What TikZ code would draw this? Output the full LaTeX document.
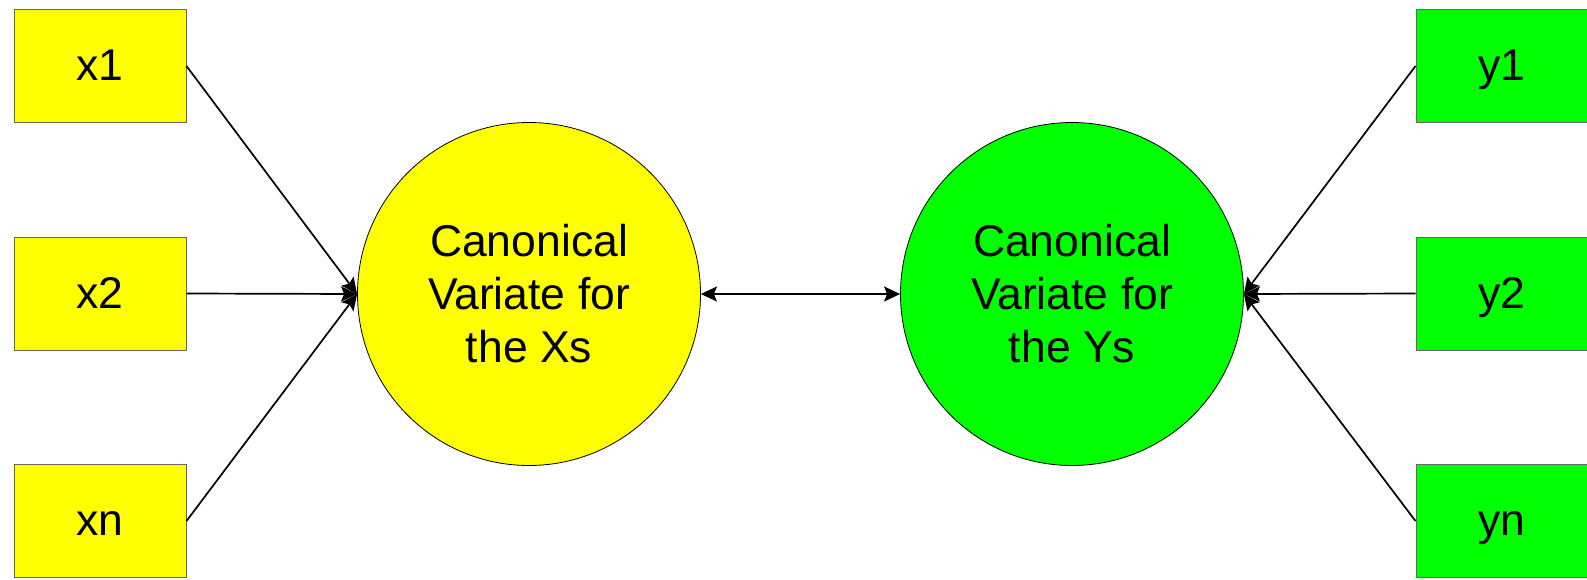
\documentclass[tikz,border=0pt]{standalone}
\usepackage{fontspec}
\setmainfont{Liberation Sans}
\usetikzlibrary{arrows.meta}
\definecolor{yel}{RGB}{255,255,0}
\definecolor{grn}{RGB}{0,255,0}
\tikzset{
  var/.style={draw=black!60, line width=1pt, minimum width=172pt, minimum height=113pt, inner sep=0pt, text height=29pt, text depth=0pt, font=\fontsize{44.5}{50}\selectfont},
  cv/.style={circle, draw=black, line width=0.8pt, minimum size=343pt, inner sep=0pt, align=center, font=\fontsize{44.5}{53}\selectfont},
  conn/.style={line width=1.7pt, -{Stealth[length=16pt,width=15pt,inset=3pt]}},
  biconn/.style={line width=1.7pt, {Stealth[length=16pt,width=15pt,inset=3pt]}-{Stealth[length=16pt,width=15pt,inset=3pt]}}
}
\begin{document}
\begin{tikzpicture}[x=1pt,y=1pt]
\useasboundingbox (0,0) rectangle (1587,-579);
\begin{scope}
\clip (0,0) rectangle (1587,-579);
\node[var, fill=yel] (x1) at (100,-66) {x1};
\node[var, fill=yel] (x2) at (100,-293.5) {x2};
\node[var, fill=yel] (xn) at (100,-521) {xn};
\node[var, fill=grn] (y1) at (1502,-66) {y1};
\node[var, fill=grn] (y2) at (1502,-293.5) {y2};
\node[var, fill=grn] (yn) at (1502,-521) {yn};
\node[cv, fill=yel] (cx) at (529,-294) {Canonical\\Variate for\\the Xs};
\node[cv, fill=grn] (cy) at (1072,-294) {Canonical\\Variate for\\the Ys};
\draw[conn] (x1.east) -- (cx.west);
\draw[conn] (x2.east) -- (cx.west);
\draw[conn] (xn.east) -- (cx.west);
\draw[conn] (y1.west) -- (cy.east);
\draw[conn] (y2.west) -- (cy.east);
\draw[conn] (yn.west) -- (cy.east);
\draw[biconn] (cx.east) -- (cy.west);
\end{scope}
\end{tikzpicture}
\end{document}
